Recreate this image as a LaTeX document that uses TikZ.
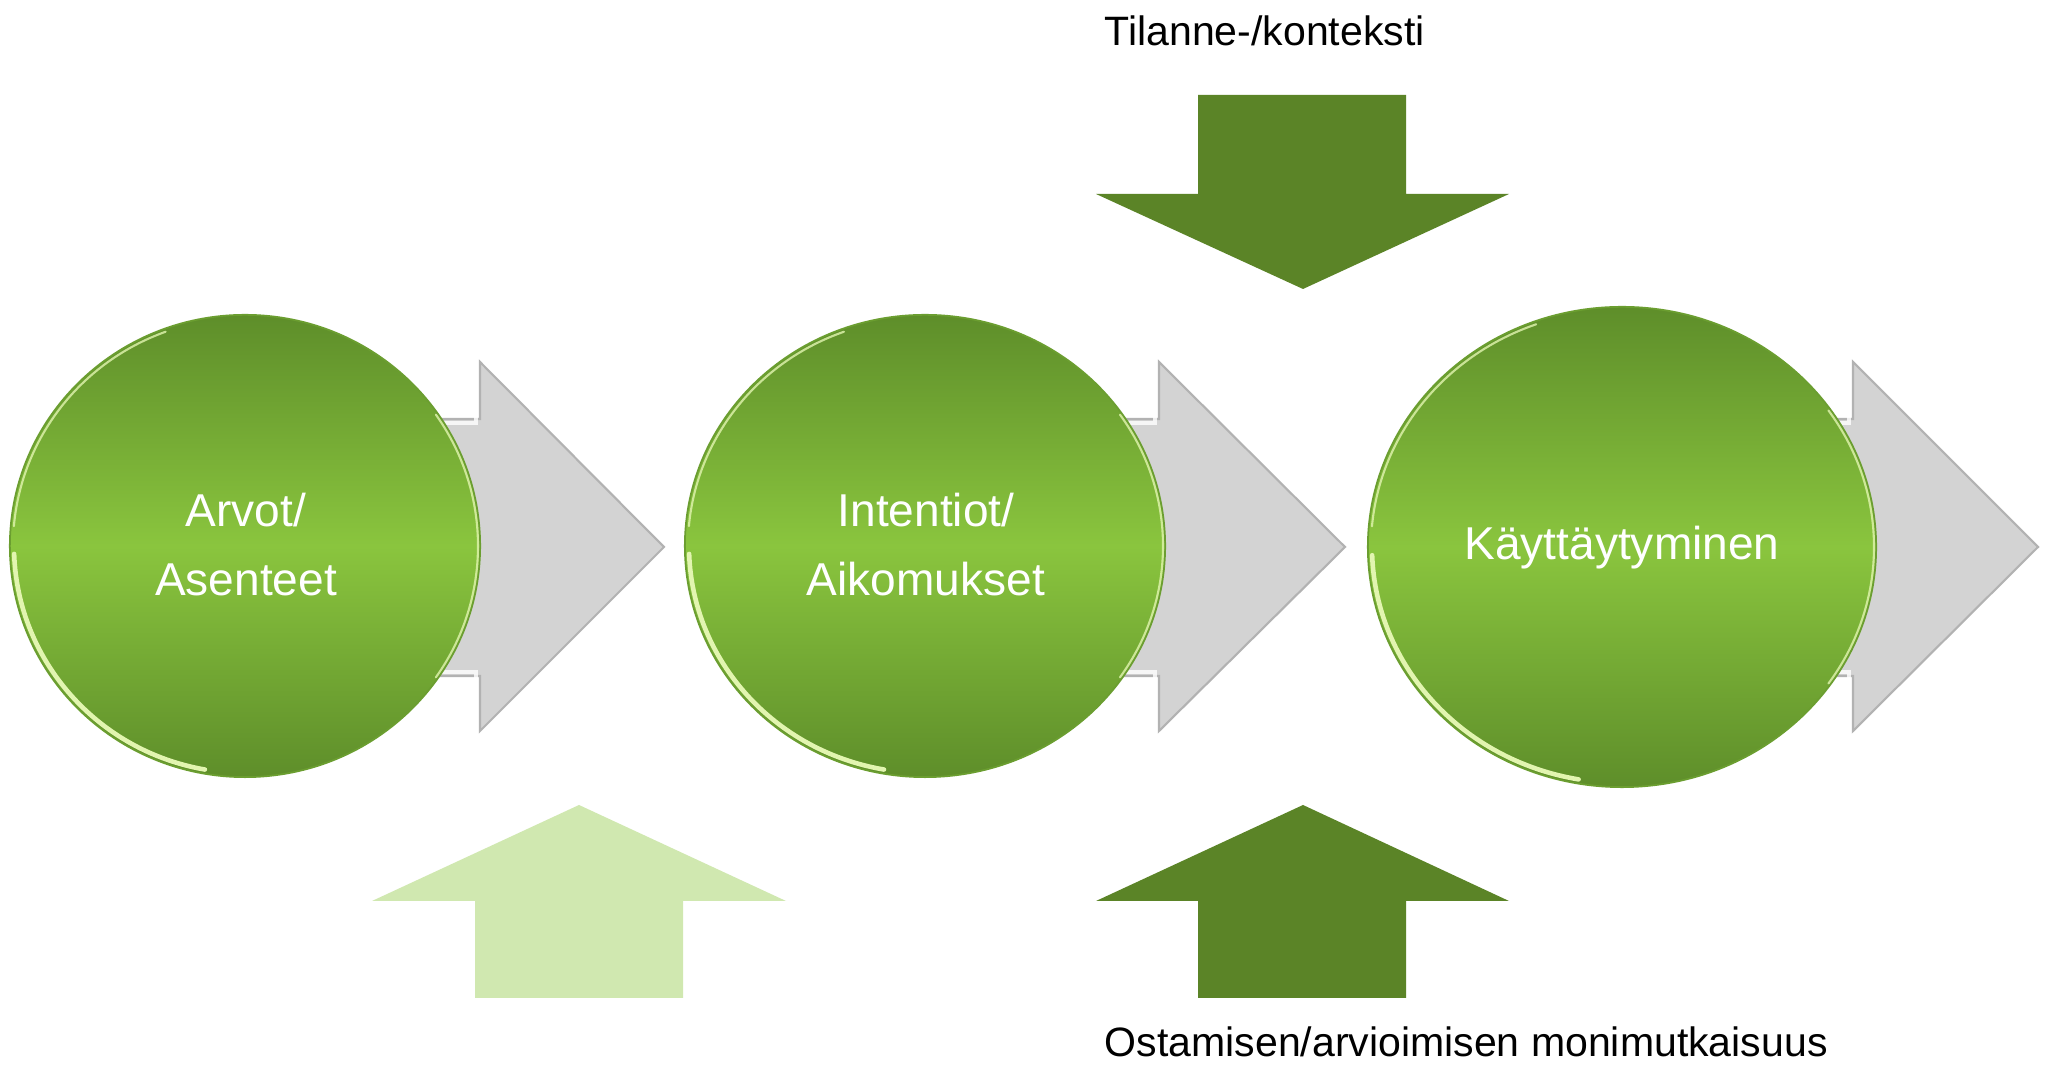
\documentclass[tikz,border=0pt]{standalone}
\usepackage{fontspec}
\setmainfont{Liberation Sans}
\usetikzlibrary{shapes.geometric}
\definecolor{darkgreen}{HTML}{5B8427}
\definecolor{lightgreen}{HTML}{D0E8B0}
\definecolor{arrowgray}{HTML}{D3D3D3}
\definecolor{arrowedge}{HTML}{B2B2B2}
\definecolor{balltop}{HTML}{5E8E2A}
\definecolor{ballmid}{HTML}{8AC53E}
\definecolor{rimlight}{HTML}{E2F5B0}
\begin{document}
\begin{tikzpicture}[x=0.01cm,y=-0.01cm,
  ball/.style={ellipse, inner sep=0pt, outer sep=0pt, top color=balltop, bottom color=balltop, middle color=ballmid, draw=balltop!70!ballmid, line width=0.5pt},
  balltext/.style={text=white, font=\fontsize{13.1}{15}\selectfont, anchor=base, inner sep=0pt},
  labeltext/.style={text=black, font=\fontsize{11.67}{14}\selectfont, anchor=base west, inner sep=0pt},
  grayarrow/.style={fill=arrowgray, draw=arrowedge, line width=0.6pt, line join=miter},
  bevel/.style={draw=white, line width=1.2pt, opacity=0.8},
  rimhi/.style={draw=rimlight, line width=1.3pt, line cap=round},
  rimthin/.style={draw=rimlight, line width=0.6pt, line cap=round, opacity=0.8},
  blockdark/.style={fill=darkgreen, draw=none},
  blocklight/.style={fill=lightgreen, draw=none}
]
\useasboundingbox (0,0) rectangle (2051,1068);
\fill[white] (0,0) rectangle (2051,1068);

% centre coordinates
\coordinate (c1) at (245,546);
\coordinate (c2) at (925,546);
\coordinate (c3) at (1622,547);

% gray block arrows (behind the circles)
\path[grayarrow] (c1 |- 0,419) -- (480,419) -- (480,362) -- (664,547) -- (480,731) -- (480,676) -- (c1 |- 0,676) -- cycle;
\path[grayarrow] (c2 |- 0,419) -- (1159,419) -- (1159,362) -- (1345,547) -- (1159,731) -- (1159,676) -- (c2 |- 0,676) -- cycle;
\path[grayarrow] (c3 |- 0,419) -- (1853,419) -- (1853,362) -- (2038,547) -- (1853,731) -- (1853,676) -- (c3 |- 0,676) -- cycle;
\draw[bevel] (c1 |- 0,423) -- (476,423) -- (476,368);
\draw[bevel] (c1 |- 0,672) -- (476,672) -- (476,725);
\draw[bevel] (c2 |- 0,423) -- (1155,423) -- (1155,368);
\draw[bevel] (c2 |- 0,672) -- (1155,672) -- (1155,725);
\draw[bevel] (c3 |- 0,423) -- (1849,423) -- (1849,368);
\draw[bevel] (c3 |- 0,672) -- (1849,672) -- (1849,725);

% circles
\node[ball, minimum width=4.70cm, minimum height=4.62cm] (b1) at (c1) {};
\node[ball, minimum width=4.80cm, minimum height=4.62cm] (b2) at (c2) {};
\node[ball, minimum width=5.08cm, minimum height=4.80cm] (b3) at (c3) {};

% rim highlights
\draw[rimhi] ([shift={(100:231 and 227)}]c1) arc[start angle=100, end angle=178, x radius=231, y radius=227];
\draw[rimthin] ([shift={(185:232 and 228)}]c1) arc[start angle=185, end angle=250, x radius=232, y radius=228];
\draw[rimthin] ([shift={(-35:233 and 229)}]c1) arc[start angle=-35, end angle=35, x radius=233, y radius=229];
\draw[rimhi] ([shift={(100:236 and 227)}]c2) arc[start angle=100, end angle=178, x radius=236, y radius=227];
\draw[rimthin] ([shift={(185:237 and 228)}]c2) arc[start angle=185, end angle=250, x radius=237, y radius=228];
\draw[rimthin] ([shift={(-35:238 and 229)}]c2) arc[start angle=-35, end angle=35, x radius=238, y radius=229];
\draw[rimhi] ([shift={(100:250 and 236)}]c3) arc[start angle=100, end angle=178, x radius=250, y radius=236];
\draw[rimthin] ([shift={(185:251 and 237)}]c3) arc[start angle=185, end angle=250, x radius=251, y radius=237];
\draw[rimthin] ([shift={(-35:252 and 238)}]c3) arc[start angle=-35, end angle=35, x radius=252, y radius=238];

% circle texts
\node[balltext] (t1a) at (246,527) {Arvot/};
\node[balltext] (t1b) at (246,596) {Asenteet};
\node[balltext] (t2a) at (926,527) {Intentiot/};
\node[balltext] (t2b) at (926,596) {Aikomukset};
\node[balltext] (t3) at (1622,560) {Käyttäytyminen};

% down arrow (top)
\path[blockdark] (1198,95) -- (1406,95) -- (1406,194) -- (1509,194) -- (1303,289) -- (1096,194) -- (1198,194) -- cycle;
% up arrows (bottom)
\path[blocklight] (579,805) -- (786,901) -- (683,901) -- (683,998) -- (475,998) -- (475,901) -- (372,901) -- cycle;
\path[blockdark] (1303,805) -- (1509,901) -- (1406,901) -- (1406,998) -- (1198,998) -- (1198,901) -- (1096,901) -- cycle;

% labels
\node[labeltext] (lab1) at (1104,46) {Tilanne-/konteksti};
\node[labeltext] (lab2) at (1104,1057) {Ostamisen/arvioimisen monimutkaisuus};
\end{tikzpicture}
\end{document}
